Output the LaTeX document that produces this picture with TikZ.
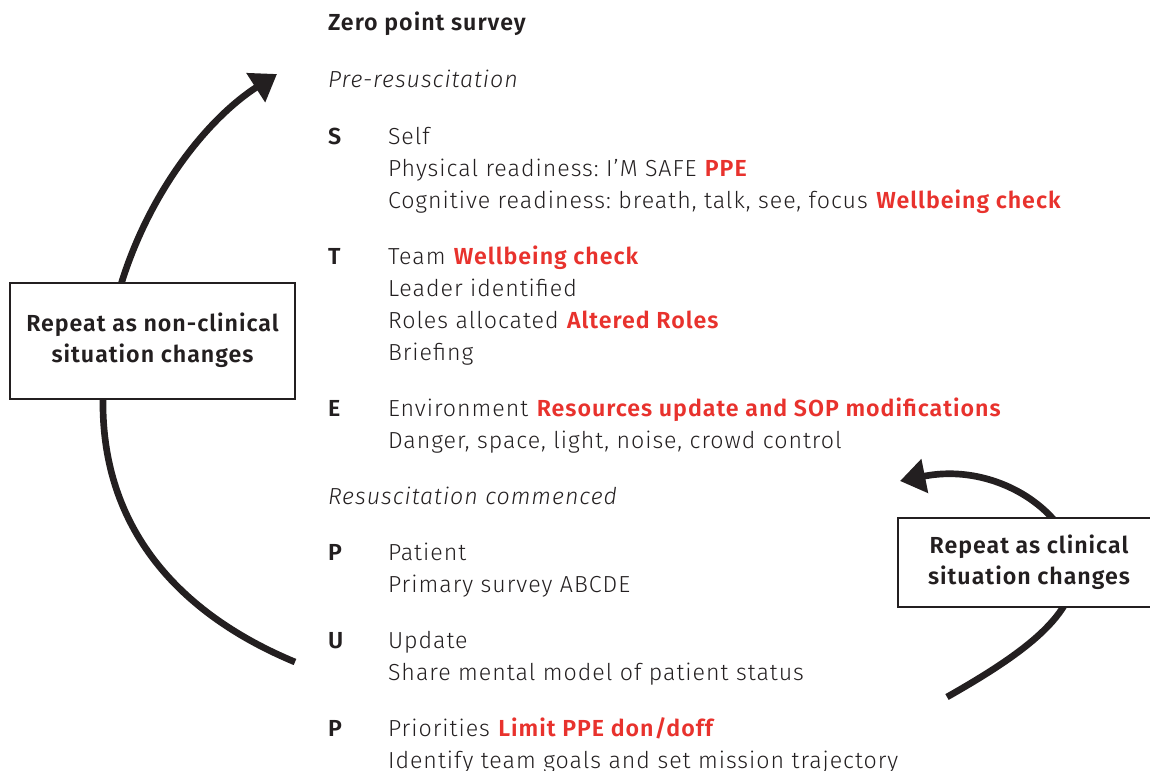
\documentclass[tikz,border=0pt]{standalone}
\usepackage{fontspec}
\setmainfont{Fira Sans}[UprightFont=* Light, ItalicFont=* Light Italic, BoldFont=* SemiBold, BoldItalicFont=* SemiBold Italic, LetterSpace=4.2]
\usetikzlibrary{arrows.meta}
\definecolor{ink}{RGB}{35,31,32}
\definecolor{hl}{RGB}{232,50,45}
\newcommand{\hlt}[1]{\textbf{\textcolor{hl}{#1}}}
\frenchspacing
\begin{document}
\begin{tikzpicture}[x=0.75pt,y=-0.75pt,
  every node/.style={inner sep=0pt, outer sep=0pt, text=ink, font=\fontsize{17.4}{24}\selectfont},
  txt/.style={anchor=base west},
  keyletter/.style={anchor=base west, font=\fontsize{17.4}{24}\selectfont\bfseries},
  loopline/.style={draw=ink, line width=5pt, -{Triangle[length=19pt,width=25pt]}},
  notebox/.style={draw=ink, line width=1.5pt, fill=white, font=\fontsize{17.4}{23.25}\selectfont\bfseries, align=center}]
\useasboundingbox (0,0) rectangle (1150,771);
% title and headings
\node[txt, font=\fontsize{17.4}{24}\selectfont\bfseries] (title) at (328,31) {Zero point survey};
\node[txt, font=\fontsize{17.4}{24}\selectfont\itshape] (pre) at (328,87) {Pre-resuscitation};
% S
\node[keyletter] (kS) at (328,144) {S};
\node[txt] (s1) at (388,144) {Self};
\node[txt] (s2) at (388,176) {Physical readiness: I’M SAFE \hlt{PPE}};
\node[txt] (s3) at (388,208) {Cognitive readiness: breath, talk, see, focus \hlt{Wellbeing check}};
% T
\node[keyletter] (kT) at (328,264) {T};
\node[txt] (t1) at (388,264) {Team \hlt{Wellbeing check}};
\node[txt] (t2) at (388,296) {Leader identified};
\node[txt] (t3) at (388,328) {Roles allocated \hlt{Altered Roles}};
\node[txt] (t4) at (388,360) {Briefing};
% E
\node[keyletter] (kE) at (328,416) {E};
\node[txt] (e1) at (388,416) {Environment \hlt{Resources update and SOP modifications}};
\node[txt] (e2) at (388,448) {Danger, space, light, noise, crowd control};
% resuscitation
\node[txt, font=\fontsize{17.4}{24}\selectfont\itshape] (res) at (328,504) {Resuscitation commenced};
% P
\node[keyletter] (kP) at (328,560) {P};
\node[txt] (p1) at (388,560) {Patient};
\node[txt] (p2) at (388,592) {Primary survey ABCDE};
% U
\node[keyletter] (kU) at (328,648) {U};
\node[txt] (u1) at (388,648) {Update};
\node[txt] (u2) at (388,680) {Share mental model of patient status};
% P
\node[keyletter] (kP2) at (328,736) {P};
\node[txt] (q1) at (388,736) {Priorities \hlt{Limit PPE don/doff}};
\node[txt] (q2) at (388,768) {Identify team goals and set mission trajectory};
% loop arrows
\coordinate (lstart) at (295,662);
\coordinate (lmid) at (103,398);
\coordinate (ltip) at (277,74);
\draw[loopline] (lstart) .. controls (170,610) and (101,520) .. (lmid) .. controls (105,250) and (190,130) .. (ltip);
\coordinate (rstart) at (947,697);
\coordinate (rmid) at (1074,560);
\coordinate (rtip) at (900,481);
\draw[loopline] (rstart) .. controls (1030,650) and (1082,610) .. (rmid) .. controls (1066,510) and (995,462) .. (rtip);
% boxes
\node[notebox, minimum width=213.75pt, minimum height=87pt] (nonclin) at (152.5,340.5) {Repeat as non-clinical\\situation changes};
\node[notebox, minimum width=196.5pt, minimum height=66.75pt] (clin) at (1029,562) {Repeat as clinical\\situation changes};
\end{tikzpicture}
\end{document}
